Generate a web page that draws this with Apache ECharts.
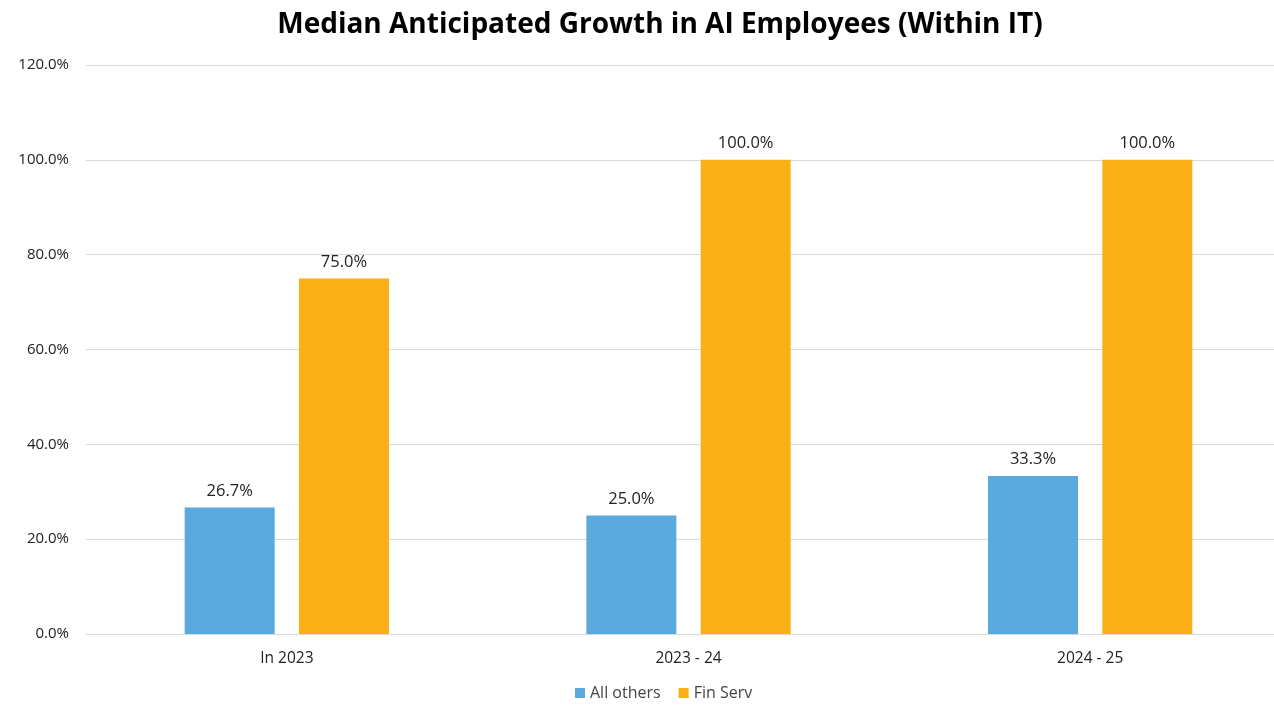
<!DOCTYPE html>
<html>
<head>
<meta charset="utf-8">
<script src="https://cdn.jsdelivr.net/npm/echarts@6/dist/echarts.min.js"></script>
<style>
  html, body { margin: 0; padding: 0; background: #fff; overflow: hidden; width: 1274px; height: 706px; }
  /* the plot runs past the right edge of the view */
  #chart { width: 1291px; height: 706px; }
</style>
</head>
<body>
<div id="chart"></div>
<script>
// Median anticipated growth in AI employees within IT, by period
const categories = ['In 2023', '2023 - 24', '2024 - 25'];
const allOthers = [26.7, 25.0, 33.3];
const finServ = [75.0, 100.0, 100.0];
const seriesNames = ['All others', 'Fin Serv'];

const font = '"Open Sans", "Liberation Sans", sans-serif';

const chart = echarts.init(document.getElementById('chart'));

const labelStyle = {
  show: true,
  position: 'top',
  distance: 8,
  color: '#222',
  fontSize: 16.5,
  fontFamily: font,
  formatter: p => p.value.toFixed(1) + '%'
};

chart.setOption({
  animation: false,
  title: {
    text: 'Median Anticipated Growth in AI Employees (Within IT)',
    left: 655,
    textAlign: 'center',
    top: 6,
    textStyle: { fontFamily: font, fontWeight: 'bold', fontSize: 28, color: '#000' }
  },
  legend: {
    bottom: 0,
    left: 570,
    itemWidth: 10,
    itemHeight: 10,
    itemGap: 18,
    icon: 'rect',
    textStyle: { fontFamily: font, fontSize: 16, color: '#444' },
    data: seriesNames
  },
  grid: { left: 86, top: 65, right: 0, bottom: 72 },
  xAxis: {
    type: 'category',
    data: categories,
    axisTick: { show: false },
    axisLine: { lineStyle: { color: '#d9d9d9' } },
    axisLabel: { fontFamily: font, fontSize: 15.5, color: '#222', margin: 17 }
  },
  yAxis: {
    type: 'value',
    min: 0,
    max: 120,
    interval: 20,
    axisLabel: { fontFamily: font, fontSize: 15, color: '#222', margin: 17,
      formatter: v => v.toFixed(1) + '%' },
    splitLine: { lineStyle: { color: '#d9d9d9', width: 1 } },
    axisLine: { show: false },
    axisTick: { show: false }
  },
  series: [
    {
      name: seriesNames[0],
      type: 'bar',
      data: allOthers,
      barWidth: 90,
      barGap: '27%',
      itemStyle: { color: '#5BAADD' },
      label: labelStyle
    },
    {
      name: seriesNames[1],
      type: 'bar',
      data: finServ,
      barWidth: 90,
      itemStyle: { color: '#FBAF17' },
      label: labelStyle
    }
  ]
});
</script>
</body>
</html>
